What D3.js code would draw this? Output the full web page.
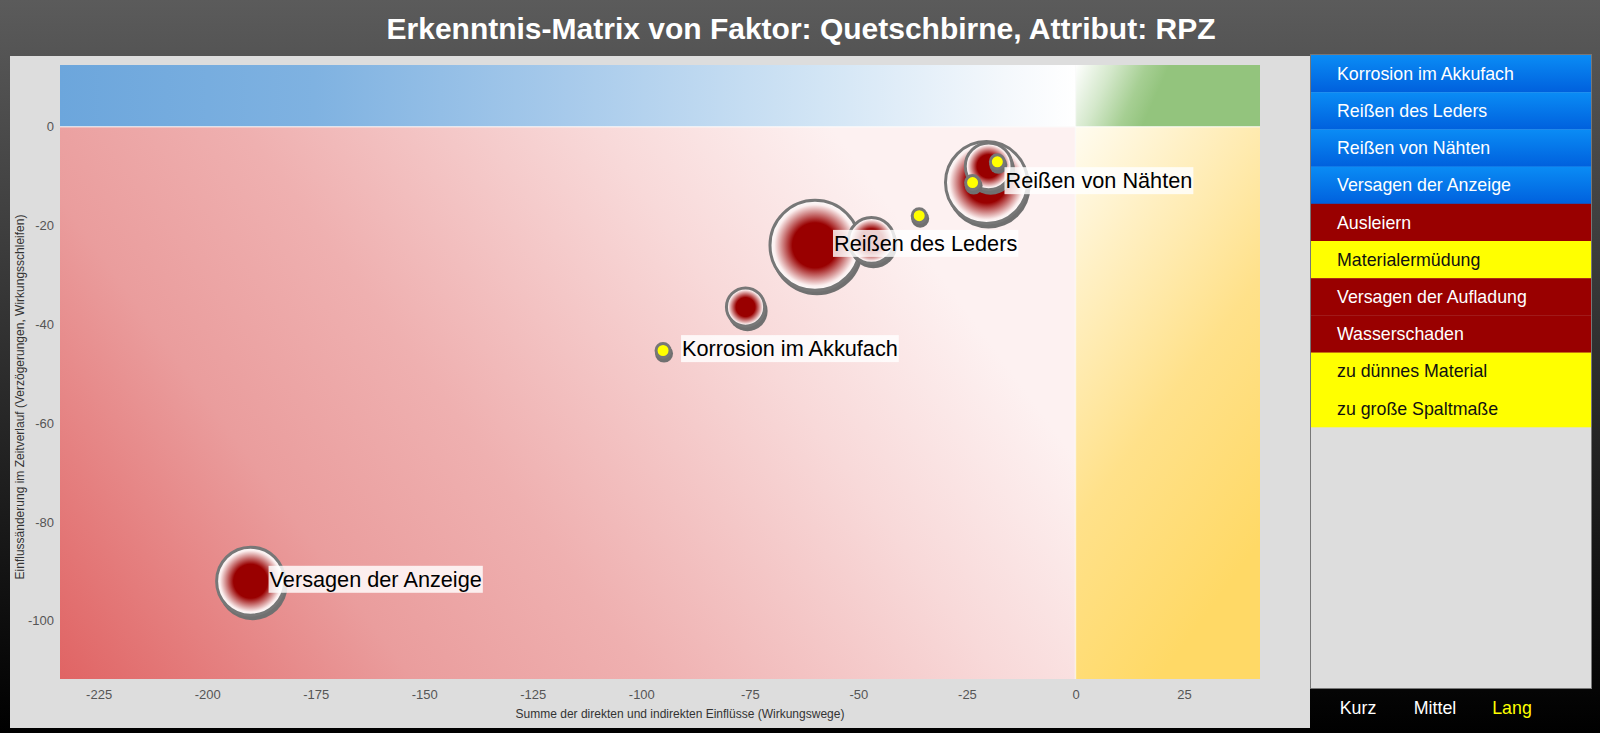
<!DOCTYPE html>
<html>
<head>
<meta charset="utf-8">
<script src="https://cdn.jsdelivr.net/npm/d3@7"></script>
<style>
  html, body { margin: 0; padding: 0; background: #000; }
  svg { display: block; font-family: "Liberation Sans", Arial, sans-serif; }
</style>
</head>
<body>
<svg id="chart" width="1600" height="733"></svg>
<script>
// ---------------- data ----------------
const chartTitle = "Erkenntnis-Matrix von Faktor: Quetschbirne, Attribut: RPZ";
const xAxisTitle = "Summe der direkten und indirekten Einflüsse (Wirkungswege)";
const yAxisTitle = "Einflussänderung im Zeitverlauf (Verzögerungen, Wirkungsschleifen)";

const xTicks = [-225, -200, -175, -150, -125, -100, -75, -50, -25, 0, 25];
const yTicks = [0, -20, -40, -60, -80, -100];

// points (bubbles and dots)
const pointLabels = ["Versagen der Anzeige", "Reißen des Leders", "", "", "Reißen von Nähten", "", "Korrosion im Akkufach", "", "", ""];
const pointX      = [-190, -60, -47, -76, -20.5, -20, -95, -36, -18, -23.7];
const pointY      = [-92, -24, -23, -36.5, -11.3, -8, -45.3, -18, -7.1, -11.3];
const pointSize   = [57, 100, 26, 18, 83, 27, 0, 0, 0, 0];
const pointKind   = ["bubble", "bubble", "bubble", "bubble", "bubble", "bubble", "dot", "dot", "dot", "dot"];

const legendNames = ["Korrosion im Akkufach", "Reißen des Leders", "Reißen von Nähten", "Versagen der Anzeige",
  "Ausleiern", "Materialermüdung", "Versagen der Aufladung", "Wasserschaden", "zu dünnes Material", "zu große Spaltmaße"];
const legendKinds = ["blue", "blue", "blue", "blue", "red", "yellow", "red", "red", "yellow", "yellow"];

const buttonNames = ["Kurz", "Mittel", "Lang"];
const buttonActive = "Lang";

// ---------------- drawing ----------------
const svg = d3.select("#chart");
const defs = svg.append("defs");

function linGrad(id, stops, attrs) {
  const g = defs.append("linearGradient").attr("id", id);
  Object.entries(attrs || {}).forEach(([k, v]) => g.attr(k, v));
  stops.forEach(([o, c]) => g.append("stop").attr("offset", o).attr("stop-color", c));
  return g;
}

linGrad("bgGrad", [[0, "#5b5b5b"], [0.93, "#060606"], [1, "#000"]], {x1: 0, y1: 0, x2: 0, y2: 1});
linGrad("blueBand", [[0, "#6ca6dc"], [0.25, "#7fb2e1"], [0.5, "#a7caeb"], [0.75, "#d2e5f5"], [0.93, "#f4f8fc"], [1, "#ffffff"]], {x1: 0, y1: 0, x2: 1, y2: 0});
linGrad("greenBand", [[0, "#ffffff"], [0.2, "#d4e8cb"], [0.38, "#a6cf93"], [0.5, "#93c47d"], [1, "#93c47d"]], {x1: 0, y1: 0, x2: 1, y2: 0.15});
linGrad("redQuad", [[0, "#e06464"], [0.3, "#ea9d9d"], [0.5, "#efb0b0"], [0.8, "#f8d9d9"], [1, "#fdf1f1"]], {x1: 0, y1: 1, x2: 1, y2: 0.6});
linGrad("yellowQuad", [[0, "#fffcf0"], [0.25, "#fff0c4"], [0.6, "#ffe18a"], [1, "#ffd966"]], {x1: 0, y1: 0, x2: 0.45, y2: 1});
linGrad("legendBlue", [[0, "#0a8cf5"], [1, "#0060dd"]], {x1: 0, y1: 0, x2: 0, y2: 1});

const rg = defs.append("radialGradient").attr("id", "bubbleGrad");
[[0, "#990000"], [0.5, "#990000"], [0.9, "#fbeeee"], [1, "#ffffff"]]
  .forEach(([o, c]) => rg.append("stop").attr("offset", o).attr("stop-color", c));

// page background
svg.append("rect").attr("width", 1600).attr("height", 733).attr("fill", "url(#bgGrad)");

// title
svg.append("text").attr("x", 801).attr("y", 39).attr("text-anchor", "middle")
  .attr("fill", "#fff").attr("font-size", 30).attr("font-weight", "bold").text(chartTitle);

// chart panel
svg.append("rect").attr("x", 10).attr("y", 56).attr("width", 1300).attr("height", 672).attr("fill", "#dddddd");

// scales
const x = d3.scaleLinear().domain([-233.9, 42.5]).range([60, 1260]);
const y = d3.scaleLinear().domain([-111.8, 12.5]).range([679, 65]);
const [x0, x1] = x.range();
const [yb, yt] = y.range();
const xz = x(0), yz = y(0);

// quadrant backgrounds
svg.append("rect").attr("x", x0).attr("y", yt).attr("width", xz - x0).attr("height", yz - yt).attr("fill", "url(#blueBand)");
svg.append("rect").attr("x", xz).attr("y", yt).attr("width", x1 - xz).attr("height", yz - yt).attr("fill", "url(#greenBand)");
svg.append("rect").attr("x", x0).attr("y", yz).attr("width", xz - x0).attr("height", yb - yz).attr("fill", "url(#redQuad)");
svg.append("rect").attr("x", xz).attr("y", yz).attr("width", x1 - xz).attr("height", yb - yz).attr("fill", "url(#yellowQuad)");

// zero lines
svg.append("line").attr("x1", xz).attr("x2", xz).attr("y1", yt).attr("y2", yb).attr("stroke", "rgba(255,255,255,0.6)").attr("stroke-width", 1.5);
svg.append("line").attr("x1", x0).attr("x2", x1).attr("y1", yz).attr("y2", yz).attr("stroke", "rgba(255,255,255,0.6)").attr("stroke-width", 1.5);

// axes (labels only)
const fmt = d => String(d);
const xAxis = d3.axisBottom(x).tickValues(xTicks).tickFormat(fmt).tickSize(0).tickPadding(11);
const gx = svg.append("g").attr("transform", `translate(0,${yb})`).call(xAxis);
gx.select(".domain").remove();
gx.selectAll("text").attr("font-size", 13).attr("fill", "#555").attr("font-family", "Liberation Sans, Arial, sans-serif");

const yAxis = d3.axisLeft(y).tickValues(yTicks).tickFormat(fmt).tickSize(0).tickPadding(6);
const gy = svg.append("g").attr("transform", `translate(${x0},0)`).call(yAxis);
gy.select(".domain").remove();
gy.selectAll("text").attr("font-size", 13).attr("fill", "#555").attr("font-family", "Liberation Sans, Arial, sans-serif");

svg.append("text").attr("x", 680).attr("y", 718).attr("text-anchor", "middle")
  .attr("font-size", 12).attr("fill", "#333").text(xAxisTitle);
svg.append("text").attr("transform", "translate(24,397) rotate(-90)").attr("text-anchor", "middle")
  .attr("font-size", 12).attr("fill", "#333").text(yAxisTitle);

// points
const r = d3.scaleSqrt().domain([0, 100]).range([0, 45]);
const pts = pointX.map((v, i) => ({x: v, y: pointY[i], s: pointSize[i], kind: pointKind[i], label: pointLabels[i]}));
const bubbles = pts.filter(d => d.kind === "bubble").sort((a, b) => b.s - a.s);
const dots = pts.filter(d => d.kind === "dot");

const gB = svg.append("g");
bubbles.forEach(d => {
  const cx = x(d.x), cy = y(d.y), rr = r(d.s);
  gB.append("circle").attr("cx", cx + 2).attr("cy", cy + 4).attr("r", rr + 1).attr("fill", "#707070");
  gB.append("circle").attr("cx", cx).attr("cy", cy).attr("r", rr).attr("fill", "url(#bubbleGrad)")
    .attr("stroke", "#777").attr("stroke-width", 3);
});

const dotR = 7;
dots.forEach(d => {
  const cx = x(d.x), cy = y(d.y);
  gB.append("circle").attr("cx", cx + 1).attr("cy", cy + 3).attr("r", dotR + 2).attr("fill", "#707070");
  gB.append("circle").attr("cx", cx).attr("cy", cy).attr("r", dotR).attr("fill", "#ffff00")
    .attr("stroke", "#777").attr("stroke-width", 3);
});

// labels
const gL = svg.append("g");
pts.filter(d => d.label).forEach(d => {
  const g = gL.append("g");
  const bg = g.append("rect").attr("fill", "rgba(255,255,255,0.82)");
  const t = g.append("text").attr("x", x(d.x) + 19).attr("y", y(d.y) - 2).attr("dy", "0.35em")
    .attr("font-size", 21.7).attr("fill", "#000").text(d.label);
  const bb = t.node().getBBox();
  bg.attr("x", bb.x - 1).attr("y", bb.y - 1).attr("width", bb.width + 2).attr("height", bb.height + 2);
});

// legend panel
const lgX = 1310, lgY = 55, lgW = 281, lgH = 634, itemH = 37.2;
svg.append("rect").attr("x", lgX + 0.5).attr("y", lgY - 0.5).attr("width", lgW).attr("height", lgH)
  .attr("fill", "#dddddd").attr("stroke", "#777").attr("stroke-width", 1);
const legendFill = {blue: "url(#legendBlue)", red: "#990000", yellow: "#ffff00"};
const legendText = {blue: "#fff", red: "#fff", yellow: "#111"};
const gLeg = svg.append("g");
legendNames.forEach((name, i) => {
  const k = legendKinds[i];
  gLeg.append("rect").attr("x", lgX + 1).attr("y", lgY + i * itemH).attr("width", lgW - 1).attr("height", itemH + 0.3)
    .attr("fill", legendFill[k]);
  gLeg.append("text").attr("x", lgX + 27).attr("y", lgY + i * itemH + itemH / 2).attr("dy", "0.35em")
    .attr("font-size", 17.8).attr("fill", legendText[k]).text(name);
});

// buttons
const btnX = d3.scalePoint().domain(buttonNames).range([1358, 1512]);
buttonNames.forEach(b => {
  svg.append("text").attr("x", btnX(b)).attr("y", 714).attr("text-anchor", "middle")
    .attr("font-size", 17.8).attr("fill", b === buttonActive ? "#ffff00" : "#fff").text(b);
});
</script>
</body>
</html>
